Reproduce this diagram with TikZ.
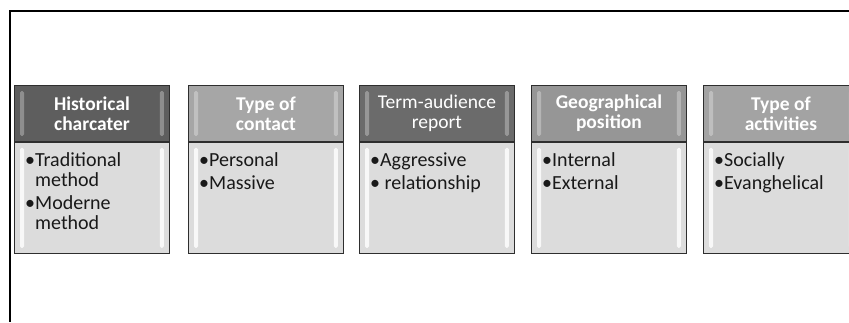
\documentclass[tikz,border=0pt]{standalone}
\usepackage{fontspec}
\setmainfont{Carlito}
\definecolor{bodygray}{HTML}{DCDCDC}
\definecolor{hA}{HTML}{5E5E5E}
\definecolor{hB}{HTML}{A6A6A6}
\definecolor{hC}{HTML}{6B6B6B}
\definecolor{hD}{HTML}{969696}
\definecolor{hE}{HTML}{A3A3A3}
\definecolor{edge}{HTML}{2E2E2E}
\begin{document}
\begin{tikzpicture}[x=1pt,y=-1pt,
  hdr/.style={draw=edge, line width=0.9pt, minimum width=155pt, minimum height=56pt,
    inner sep=0pt, anchor=north west, text=white, align=center,
    font=\fontsize{19.5}{20}\selectfont\bfseries},
  bodybox/.style={draw=edge, line width=0.9pt, fill=bodygray, minimum width=155pt,
    minimum height=111pt, inner sep=0pt, anchor=north west},
  items/.style={anchor=north west, inner sep=0pt, align=left, text=black!90,
    font=\fontsize{20}{20}\selectfont},
  hgleam/.style={fill=white, fill opacity=0.3, rounded corners=1.5pt},
  bgleam/.style={fill=white, fill opacity=0.8, rounded corners=1.5pt}
]
\useasboundingbox (0,0) rectangle (849,322);
\clip (0,0) rectangle (849,322);
\fill[white] (0,0) rectangle (849,322);

% frame: top and left rules
\coordinate (frameR) at (849,11);
\coordinate (frameC) at (10,11);
\coordinate (frameB) at (10,322);
\draw[line width=2pt] (frameR) -- (frameC) -- (frameB);

% category headers
\node[hdr, fill=hA] (h1) at (14,85)  {Historical\\charcater};
\node[hdr, fill=hB] (h2) at (188,85) {Type of\\contact};
\node[hdr, fill=hC, font=\fontsize{19.5}{20}\selectfont] (h3) at (359,85) {Term-audience\\report};
\node[hdr, fill=hD] (h4) at (531,85) {Geographical\\position};
\node[hdr, fill=hE] (h5) at (703,85) {Type of\\activities};

% bodies
\foreach \i in {1,...,5}{
  \node[bodybox] (b\i) at (h\i.south west) {};
}

% bevel highlights
\foreach \i in {1,...,5}{
  \fill[hgleam] ([shift={(6,6)}]h\i.north west) rectangle ([shift={(10,-6)}]h\i.south west);
  \fill[hgleam] ([shift={(-10,6)}]h\i.north east) rectangle ([shift={(-6,-6)}]h\i.south east);
  \fill[bgleam] ([shift={(6,6)}]b\i.north west) rectangle ([shift={(10,-6)}]b\i.south west);
  \fill[bgleam] ([shift={(-10,6)}]b\i.north east) rectangle ([shift={(-6,-6)}]b\i.south east);
}

% item lists
\node[items] (t1) at ([shift={(11,11)}]b1.north west)
  {•Traditional\\\phantom{•}method\\[3pt]•Moderne\\\phantom{•}method};
\node[items] (t2) at ([shift={(11,11)}]b2.north west) {•Personal\\[3pt]•Massive};
\node[items] (t3) at ([shift={(11,11)}]b3.north west) {•Aggressive\\[3pt]• relationship};
\node[items] (t4) at ([shift={(11,11)}]b4.north west) {•Internal\\[3pt]•External};
\node[items] (t5) at ([shift={(11,11)}]b5.north west) {•Socially\\[3pt]•Evanghelical};
\end{tikzpicture}
\end{document}
